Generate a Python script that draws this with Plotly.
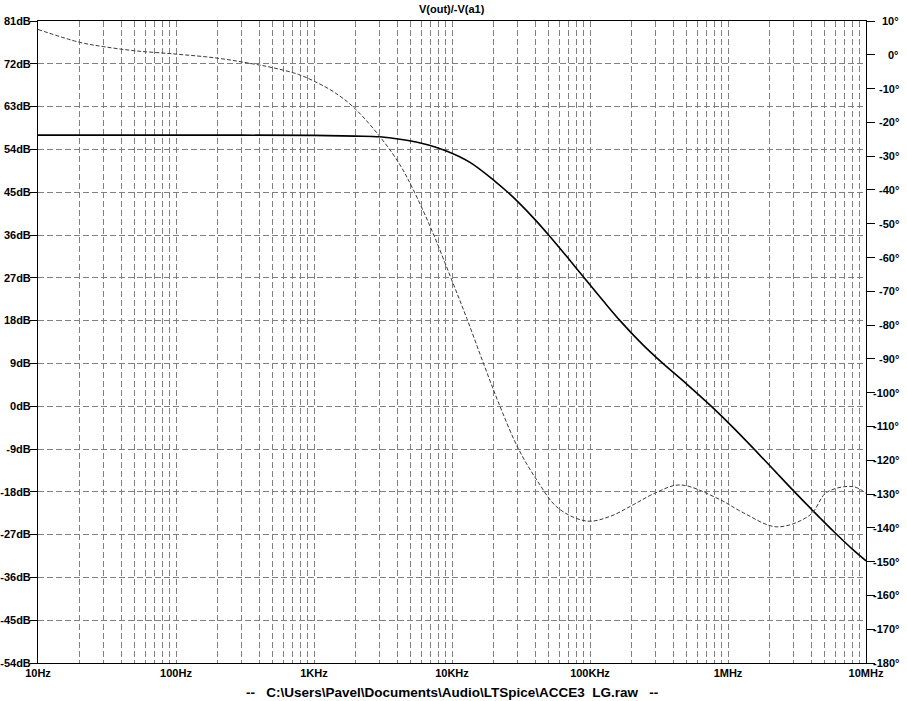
import plotly.graph_objects as go

# ---- data ----
gain_freq = [10, 300, 1000, 2000, 3000, 4200, 6000, 9200, 13500, 20500, 24900, 30200,
             38600, 50500, 70000, 92000, 125000, 165000, 240000, 331000, 500000,
             762000, 1100000, 1520000, 2100000, 2940000, 4130000, 5960000, 8000000, 10000000]
gain_db = [57.0, 57.0, 56.95, 56.8, 56.65, 56.14, 55.3, 53.62, 51.28, 47.3, 45.2, 42.9,
           39.7, 35.9, 31.0, 26.8, 22.1, 18.0, 13.0, 9.2, 4.7,
           -0.1, -4.6, -8.8, -13.1, -17.6, -22.0, -26.6, -30.1, -32.5]

phase_freq = [10, 20, 30, 50, 100, 200, 362, 500, 770, 1000, 1380, 1920, 3000, 4200, 5250,
              7130, 9950, 12800, 16900, 22300, 30200, 41100, 58900, 95000, 140000, 205000,
              300000, 449000, 832000, 1300000, 2260000, 3930000, 5190000, 8050000, 10000000]
phase_deg = [7.5, 3.7, 2.4, 1.2, 0.2, -1.0, -2.7, -3.8, -5.8, -7.8, -10.9, -15.4, -24.2, -32.6, -40.0,
             -51.9, -66.6, -78.0, -91.3, -104.1, -116.5, -125.8, -134.2, -138.0, -136.6, -133.2,
             -129.6, -127.3, -131.2, -135.6, -139.7, -136.2, -129.5, -127.8, -129.8]

db_ticks = [81, 72, 63, 54, 45, 36, 27, 18, 9, 0, -9, -18, -27, -36, -45, -54]
phase_ticks = [10, 0, -10, -20, -30, -40, -50, -60, -70, -80, -90, -100, -110, -120,
               -130, -140, -150, -160, -170, -180]
decades = [10, 100, 1000, 10000, 100000, 1000000, 10000000]
decade_labels = ["10Hz", "100Hz", "1KHz", "10KHz", "100KHz", "1MHz", "10MHz"]

title_text = "V(out)/-V(a1)"
footer_text = "--\u00a0\u00a0\u00a0C:\\Users\\Pavel\\Documents\\Audio\\LTSpice\\ACCE3\u00a0\u00a0LG.raw\u00a0\u00a0\u00a0--"

# ---- figure ----
FONT = "Liberation Sans, Arial, Helvetica, sans-serif"
W, H = 907, 701
ML, MR, MT, MB = 38, 41, 21, 38

xtickvals = []
xticktext = []
for d in decades:
    for m in range(1, 10):
        v = d * m
        if v > 10000000:
            break
        xtickvals.append(v)
        xticktext.append(decade_labels[decades.index(d)] if m == 1 else "")

fig = go.Figure()
fig.add_trace(go.Scatter(x=gain_freq, y=gain_db, mode="lines",
                         line=dict(color="black", width=1.6, shape="spline", smoothing=1.0),
                         yaxis="y", showlegend=False, hoverinfo="skip"))
fig.add_trace(go.Scatter(x=phase_freq, y=phase_deg, mode="lines",
                         line=dict(color="#3a3a3a", width=1, dash="4px,2px", shape="spline", smoothing=1.0),
                         yaxis="y2", showlegend=False, hoverinfo="skip"))

annotations = []
for p in phase_ticks:
    annotations.append(dict(x=1.0 + (901 - (W - MR)) / (W - ML - MR), xref="paper", y=p, yref="y2",
                            text=f"{p}°", showarrow=False, xanchor="right", yanchor="middle",
                            font=dict(family=FONT, size=11, color="black", weight="bold")))
annotations.append(dict(x=0.5, xref="paper", y=-(693 - (H - MB)) / (H - MT - MB), yref="paper",
                        text=footer_text, showarrow=False, xanchor="center", yanchor="middle",
                        font=dict(family=FONT, size=13.5, color="black", weight="bold")))
annotations.append(dict(x=0.5, xref="paper", y=1 + 12 / (H - MT - MB), yref="paper",
                        text=title_text, showarrow=False, xanchor="center", yanchor="middle",
                        font=dict(family=FONT, size=11, color="black", weight="bold")))

fig.update_layout(
    width=W, height=H,
    margin=dict(l=ML, r=MR, t=MT, b=MB, pad=0, autoexpand=False),
    paper_bgcolor="white", plot_bgcolor="white",
    font=dict(family=FONT, size=11, color="black", weight="bold"),
    xaxis=dict(type="log", range=[1, 7], tickvals=xtickvals, ticktext=xticktext, automargin=False,
               showgrid=True, gridcolor="#808080", gridwidth=1, griddash="6px,3px",
               showline=True, linecolor="black", linewidth=1, mirror=True,
               ticks="", zeroline=False,
               tickfont=dict(family=FONT, size=11, color="black", weight="bold")),
    yaxis=dict(range=[-54, 81], tickvals=db_ticks, ticktext=[f"{v}dB" for v in db_ticks], automargin=False,
               showgrid=True, gridcolor="#808080", gridwidth=1, griddash="6px,3px",
               showline=True, linecolor="black", linewidth=1,
               ticks="outside", ticklen=7, tickcolor="black", tickwidth=1, zeroline=False,
               ticklabelstandoff=-3,
               tickfont=dict(family=FONT, size=11, color="black", weight="bold")),
    yaxis2=dict(range=[-180, 10], overlaying="y", side="right", tickvals=phase_ticks, automargin=False,
                showticklabels=False, showgrid=False, zeroline=False,
                showline=True, linecolor="black", linewidth=1,
                ticks="outside", ticklen=8, tickcolor="black", tickwidth=1),
    annotations=annotations,
)

fig.write_html("out.html", config={"displayModeBar": False},
               post_script="document.body.style.margin='0';document.body.style.overflow='hidden';")
